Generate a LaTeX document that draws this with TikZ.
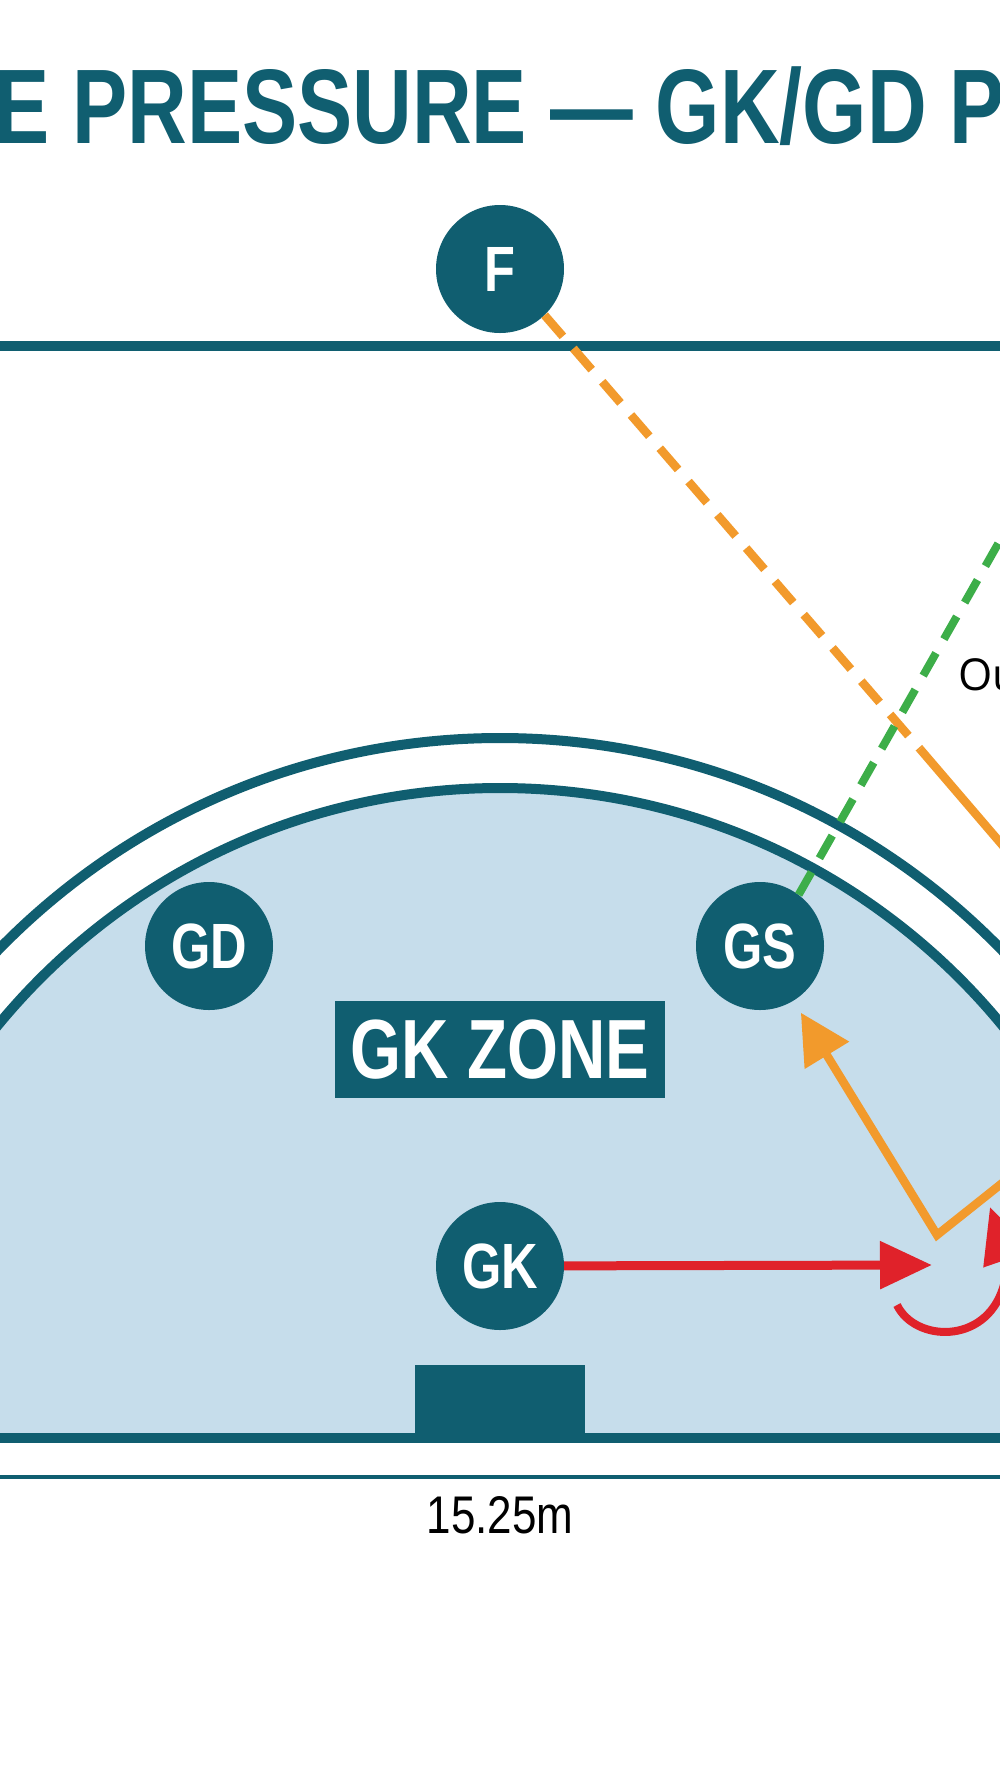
\documentclass[tikz,border=0pt]{standalone}
\usepackage{fontspec}
\usetikzlibrary{arrows.meta}
\newfontfamily\titlefam[FakeStretch=0.78]{Liberation Sans}
\newfontfamily\playerfam[FakeStretch=0.79]{Liberation Sans}
\newfontfamily\dimfam[FakeStretch=0.83]{Liberation Sans}
\newfontfamily\labelfam{Open Sans}
\definecolor{courtteal}{HTML}{105E70}
\definecolor{zoneblue}{HTML}{C6DDEB}
\definecolor{passorange}{HTML}{F29A2C}
\definecolor{passgreen}{HTML}{3DAE49}
\definecolor{moved}{HTML}{E0222A}
\tikzset{
  player/.style={circle, fill=courtteal, minimum size=128pt, inner sep=0pt, text=white,
    font=\playerfam\bfseries\fontsize{64}{68}\selectfont},
  zonebox/.style={rectangle, fill=courtteal, minimum width=330pt, minimum height=97pt, inner sep=0pt,
    text=white, font=\titlefam\bfseries\fontsize{84}{88}\selectfont},
  goalpost/.style={rectangle, fill=courtteal, minimum width=170pt, minimum height=73pt, inner sep=0pt},
  courtline/.style={draw=courtteal},
  orangeline/.style={draw=passorange, line width=8.5pt},
  greenline/.style={draw=passgreen, line width=8pt},
  redline/.style={draw=moved, line width=9pt},
}
\begin{document}
\begin{tikzpicture}[x=1pt,y=-1pt]
\useasboundingbox (0,0) rectangle (1000,1792);
\clip (0,0) rectangle (1000,1792);
\fill[white] (0,0) rectangle (1000,1792);

% zone fill and circle arcs
\begin{scope}
  \clip (-10,0) rectangle (1010,1438);
  \fill[zoneblue] (500,1438) circle[radius=650];
  \draw[courtline, line width=10pt] (500,1438) circle[radius=650];
  \draw[courtline, line width=10pt] (500,1438) circle[radius=700];
\end{scope}

% court lines
\draw[courtline, line width=10pt] (-10,346) -- (1010,346);
\draw[courtline, line width=10pt] (-10,1438) -- (1010,1438);
\draw[courtline, line width=4.5pt] (-10,1477) -- (1010,1477);

% title
\node[anchor=base west, inner sep=0pt, text=courtteal,
  font=\titlefam\bfseries\fontsize{106}{110}\selectfont] (title) at (-6,143) {E PRESSURE — GK/GD P};

% goal post
\node[goalpost] (post) at (500,1401.5) {};

% zone label
\node[zonebox] (zone) at (500,1049.5) {GK ZONE};

% players
\node[player] (F) at (500,269) {F};
\node[player] (GD) at (209,946) {GD};
\node[player] (GS) at (760,946) {GS};
\node[player] (GK) at (500,1266) {GK};

% coordinates for free ends
\coordinate (obreak) at (920,749);
\coordinate (oend) at (1040,889);
\coordinate (gend) at (1040,470);
\coordinate (overt) at (937,1235);
\coordinate (oright) at (1040,1153);
\coordinate (rtip) at (932,1265);
\coordinate (rstart) at (897,1305);
\coordinate (rturn) at (1003,1288);
\coordinate (rend) at (990,1207);

% orange dashed pass from F
\draw[orangeline, dash pattern=on 28pt off 16pt] (F.-46) -- (obreak);
\draw[orangeline] (obreak) -- (oend);

% green dashed line from GS
\draw[greenline, dash pattern=on 26pt off 16pt] (GS.53) -- (gend);

% orange V arrow to GS
\draw[orangeline, line join=miter, -{Triangle[length=50pt,width=50pt]}, shorten >=14pt]
  (oright) -- (overt) -- (GS);

% red move arrow
\draw[redline, -{Triangle[length=52pt,width=46pt]}] (GK) -- (rtip);

% red turn arrow
\draw[redline, line width=8pt, -{Triangle[length=55pt,width=50pt]}]
  (rstart) .. controls (915,1342) and (985,1345) .. (rturn)
  .. controls (1010,1265) .. (rend);

% labels
\node[anchor=base west, inner sep=0pt, text=black,
  font=\labelfam\fontsize{44}{46}\selectfont] (ou) at (958,690) {Ou};
\node[anchor=base, inner sep=0pt, text=black,
  font=\dimfam\fontsize{53}{56}\selectfont] (dim) at (500,1533) {15.25m};
\end{tikzpicture}
\end{document}
